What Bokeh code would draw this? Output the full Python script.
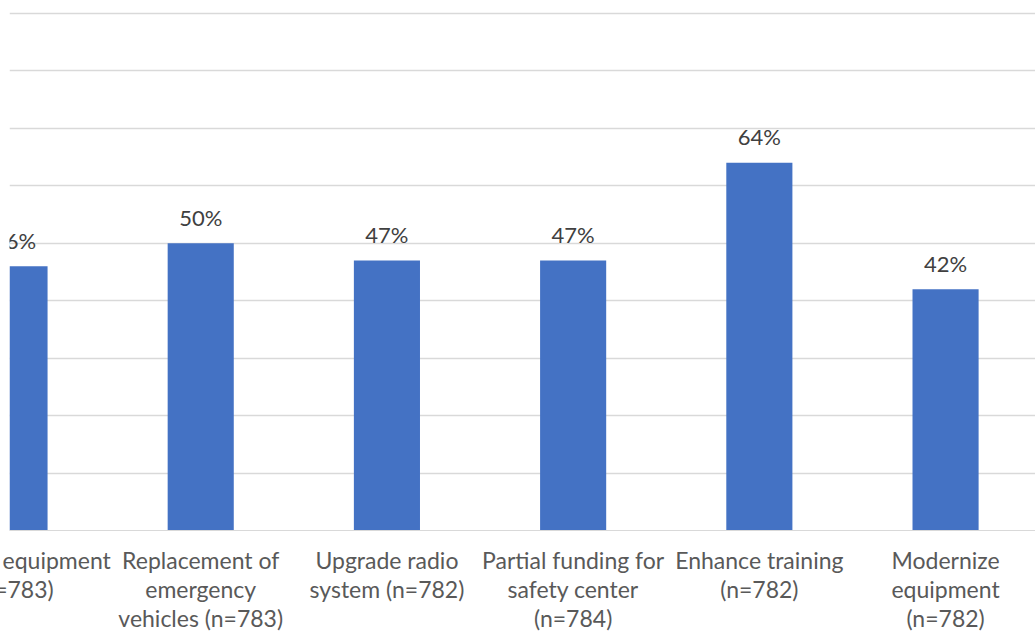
from bokeh.plotting import figure
from bokeh.models import ColumnDataSource, FixedTicker, Range1d
from bokeh.core.properties import value
from bokeh.embed import file_html
from bokeh.resources import INLINE

categories = [
    "Replace equipment\n(n=783)",
    "Replacement of\nemergency\nvehicles (n=783)",
    "Upgrade radio\nsystem (n=782)",
    "Partial funding for\nsafety center\n(n=784)",
    "Enhance training\n(n=782)",
    "Modernize\nequipment\n(n=782)",
]
values = [46, 50, 47, 47, 64, 42]
value_labels = [f"{v}%" for v in values]
grid_ticks = [0, 10, 20, 30, 40, 50, 60, 70, 80, 90]

FONT = "Lato"
SHIFT = 120  # the chart is cropped on its left side, as in the reference
xs = list(range(len(categories)))
src = ColumnDataSource(dict(x=xs, top=values, lab=value_labels))

p = figure(frame_width=1026, frame_height=519, output_backend="svg",
           toolbar_location=None,
           x_range=Range1d(-0.0269, 5.483), y_range=Range1d(0, 90.35),
           y_axis_location=None, min_border_left=9 + SHIFT, min_border_right=0,
           min_border_top=11, min_border_bottom=104,
           styles={"margin-left": f"-{SHIFT}px"})
p.outline_line_color = None
p.background_fill_color = "white"
p.border_fill_color = "white"

p.vbar(x="x", top="top", bottom=0, width=0.355, source=src,
       fill_color="#4472C4", line_color=None)
p.text(x="x", y="top", text="lab", source=src, text_align="center",
       text_baseline="alphabetic", y_offset=-26,
       text_font=value(FONT), text_font_size="22px", text_color="#404040")

p.xaxis.ticker = FixedTicker(ticks=xs)
p.xaxis.major_label_overrides = {i: c for i, c in enumerate(categories)}
p.xaxis.major_label_text_font = FONT
p.xaxis.major_label_text_font_size = "23px"
p.xaxis.major_label_text_color = "#595959"
p.xaxis.major_label_text_line_height = 1.05
p.xaxis.major_label_standoff = 15
p.xaxis.major_tick_out = 0
p.xaxis.major_tick_in = 0
p.xaxis.axis_line_color = "#d9d9d9"
p.xaxis.major_tick_line_color = None
p.xaxis.minor_tick_line_color = None

p.xgrid.grid_line_color = None
p.ygrid.ticker = FixedTicker(ticks=grid_ticks)
p.ygrid.grid_line_color = "#d9d9d9"
p.ygrid.grid_line_width = 1.3

open("out.html", "w").write(file_html(p, INLINE))
